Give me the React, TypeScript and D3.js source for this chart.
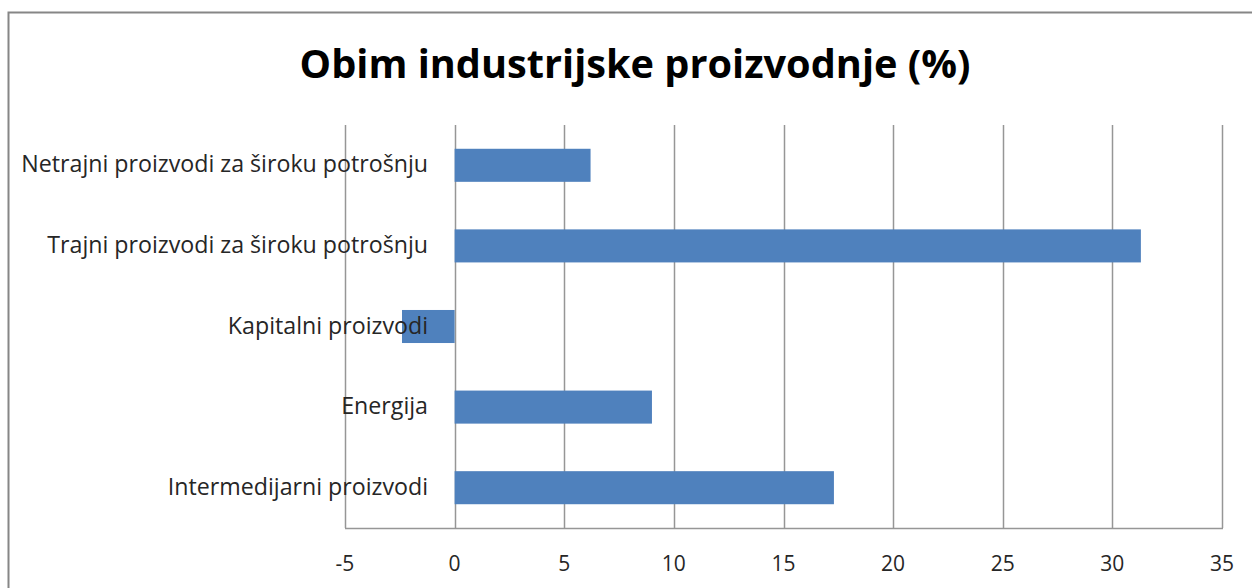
import * as d3 from 'd3'
import { useEffect, useRef } from 'react'

const categories = [
  'Netrajni proizvodi za široku potrošnju',
  'Trajni proizvodi za široku potrošnju',
  'Kapitalni proizvodi',
  'Energija',
  'Intermedijarni proizvodi',
]
const values = [6.2, 31.3, -2.4, 9.0, 17.3]
const xTicks = [-5, 0, 5, 10, 15, 20, 25, 30, 35]
const title = 'Obim industrijske proizvodnje (%)'

export default function App() {
  const svgRef = useRef<SVGSVGElement>(null)

  useEffect(() => {
    makeChart()
  }, [])

  function makeChart() {
    const width = 1252
    const height = 588
    const left = 345
    const right = 1222
    const top = 125
    const bottom = 528
    const font = '"Open Sans", sans-serif'

    const svg = d3.select(svgRef.current).attr('width', width).attr('height', height)
    svg.selectAll('*').remove()

    // chart frame, runs off the right and bottom of the picture
    svg.append('rect')
      .attr('x', 8.5).attr('y', 12.5)
      .attr('width', width).attr('height', height)
      .attr('fill', 'white').attr('stroke', '#868686').attr('stroke-width', 2)

    svg.append('text')
      .attr('x', 635).attr('y', 78)
      .attr('text-anchor', 'middle')
      .attr('font-family', font).attr('font-weight', 'bold').attr('font-size', 39.7)
      .attr('fill', '#000')
      .text(title)

    const xScale = d3.scaleLinear().domain([-5, 35]).range([left, right])
    const yScale = d3.scaleBand().domain(categories).range([top, bottom]).paddingInner(0.59).paddingOuter(0.295)

    const grid = svg.append('g')
    grid.selectAll('line')
      .data(xTicks)
      .enter()
      .append('line')
      .attr('x1', d => Math.round(xScale(d)) + 0.5)
      .attr('x2', d => Math.round(xScale(d)) + 0.5)
      .attr('y1', top).attr('y2', bottom)
      .attr('stroke', '#969696').attr('stroke-width', 1.5)

    svg.append('line')
      .attr('x1', left).attr('x2', right + 1)
      .attr('y1', bottom + 0.5).attr('y2', bottom + 0.5)
      .attr('stroke', '#969696').attr('stroke-width', 1.5)

    svg.append('g')
      .selectAll('text')
      .data(xTicks)
      .enter()
      .append('text')
      .attr('x', d => xScale(d))
      .attr('y', 571)
      .attr('text-anchor', 'middle')
      .attr('font-family', font).attr('font-size', 21)
      .attr('fill', '#262626')
      .text(d => d)

    svg.append('g')
      .selectAll('rect')
      .data(values)
      .enter()
      .append('rect')
      .attr('x', d => xScale(Math.min(0, d)))
      .attr('width', d => Math.abs(xScale(d) - xScale(0)))
      .attr('y', (d, i) => yScale(categories[i])!)
      .attr('height', yScale.bandwidth())
      .attr('fill', '#4F81BD')

    svg.append('g')
      .selectAll('text')
      .data(categories)
      .enter()
      .append('text')
      .attr('x', 428)
      .attr('y', d => yScale(d)! + yScale.bandwidth() / 2 + 7)
      .attr('text-anchor', 'end')
      .attr('font-family', font).attr('font-size', 23.2)
      .attr('fill', '#262626')
      .text(d => d)
  }

  return (
    <svg ref={svgRef} style={{ position: 'absolute', left: 0, top: 0 }}></svg>
  )
}
